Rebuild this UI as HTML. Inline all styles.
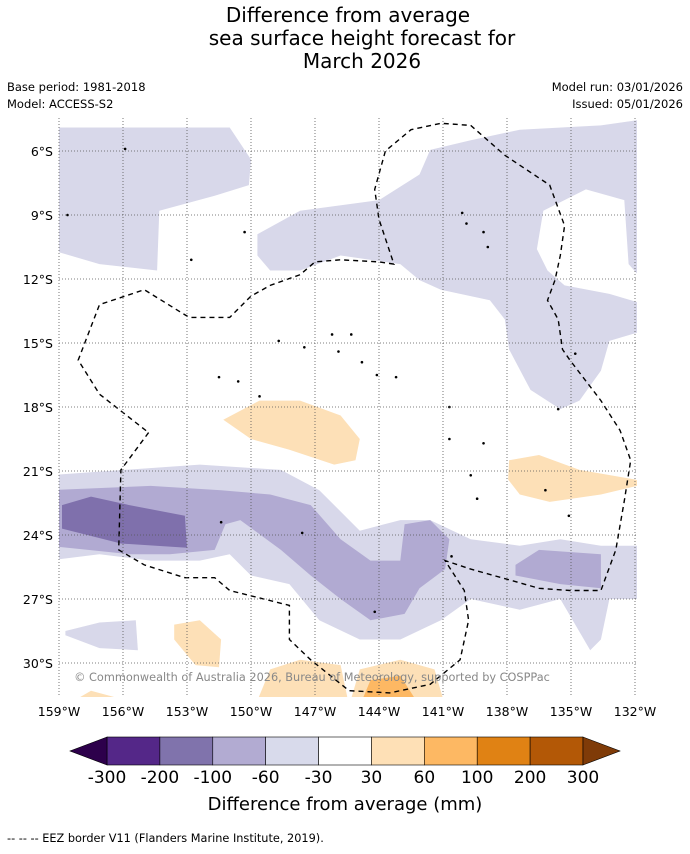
<!DOCTYPE html>
<html><head><meta charset="utf-8">
<style>
body{margin:0;background:#fff;width:690px;height:850px;overflow:hidden;font-family:"DejaVu Sans","Liberation Sans",sans-serif;}
svg text{font-family:"DejaVu Sans","Liberation Sans",sans-serif;}
</style></head>
<body>
<svg id="c" width="690" height="850" xmlns="http://www.w3.org/2000/svg">
<text x="348" y="22" font-size="20" text-anchor="middle">Difference from average</text>
<text x="362" y="45" font-size="20" text-anchor="middle">sea surface height forecast for</text>
<text x="362" y="68" font-size="20" text-anchor="middle">March 2026</text>
<text x="7" y="91" font-size="11.5">Base period: 1981-2018</text>
<text x="7" y="108" font-size="11.5">Model: ACCESS-S2</text>
<text x="683" y="91" font-size="11.5" text-anchor="end">Model run: 03/01/2026</text>
<text x="683" y="108" font-size="11.5" text-anchor="end">Issued: 05/01/2026</text>
<defs><clipPath id="pc"><rect x="59" y="118" width="578" height="579"/></clipPath></defs>
<g id="map" clip-path="url(#pc)"></g>
<g id="axes"></g>
<text x="312" y="681" font-size="11.3" fill="#888" text-anchor="middle">© Commonwealth of Australia 2026, Bureau of Meteorology, supported by COSPPac</text>
<g id="cbar"></g>
<text x="345" y="810" font-size="18" text-anchor="middle">Difference from average (mm)</text>
<text x="7" y="842" font-size="11.3">--  --  -- EEZ border V11 (Flanders Marine Institute, 2019).</text>
</svg>
<script>
const lonTicks=[-159,-156,-153,-150,-147,-144,-141,-138,-135,-132];
const latTicks=[-6,-9,-12,-15,-18,-21,-24,-27,-30];
const cbLabels=["-300","-200","-100","-60","-30","30","60","100","200","300"];
const cbColors=["#542788","#8073ac","#b2abd2","#d8daeb","#ffffff","#fee0b6","#fdb863","#e08214","#b35806"];
const cbLow="#2d004b", cbHigh="#7f3b08";
const lavLightA=[[-159.5,-4.9],[-151,-4.9],[-150,-6.4],[-150.1,-7.6],[-151.7,-8.1],[-154.3,-8.8],[-154.4,-11.6],[-157.1,-11.3],[-159.5,-10.6]];
const lavLightB=[[-149.7,-9.9],[-147.7,-8.8],[-144,-8.3],[-142.1,-7.1],[-141.6,-5.95],[-139.7,-5.5],[-137.4,-5],[-133.6,-4.8],[-131.5,-4.5],[-131.5,-14.4],[-133.2,-14.9],[-133.6,-16.3],[-134.6,-17.7],[-135.5,-18.1],[-136.9,-17.2],[-137.9,-15.3],[-138.1,-13.9],[-138.8,-13],[-141.1,-12.5],[-142.1,-12.05],[-143,-11.3],[-145.8,-10.9],[-147.7,-11.6],[-149.1,-11.6],[-149.7,-10.9]];
const whiteHole=[[-136.3,-8.8],[-134.3,-7.8],[-132.5,-8.3],[-132.3,-11.3],[-131.5,-12.2],[-131.5,-13.2],[-133.2,-12.7],[-135.3,-12.3],[-136.1,-11.6],[-136.6,-10.6]];
const lavLightBand=[[-159.5,-21.2],[-152.4,-20.7],[-148.6,-20.95],[-146.8,-21.9],[-144.9,-23.8],[-143,-23.3],[-141.6,-23.3],[-139.7,-24.2],[-137.4,-24.5],[-135.5,-24.2],[-133.6,-24.5],[-131.5,-24.5],[-131.5,-27],[-133.2,-27],[-133.6,-28.9],[-134.1,-29.4],[-135.5,-27],[-137.4,-27.5],[-139.7,-27],[-141.1,-28],[-143,-28.9],[-144.9,-28.9],[-146.8,-28],[-148.2,-26.3],[-150,-25.9],[-151,-24.9],[-152.4,-25.2],[-154.7,-25.2],[-157.1,-24.9],[-159.5,-25.2]];
const lavMidBand=[[-159.5,-21.9],[-154.7,-21.7],[-151.4,-21.9],[-149.1,-22.1],[-147.2,-22.6],[-145.8,-24.2],[-144.4,-25.2],[-143,-25.2],[-142.8,-23.5],[-141.6,-23.3],[-140.7,-24.2],[-140.9,-25.6],[-142.1,-26.5],[-142.8,-27.7],[-144.4,-28],[-145.8,-27],[-147.2,-25.9],[-148.6,-24.7],[-150.5,-23.3],[-151.2,-23.5],[-151.7,-24.7],[-153.8,-24.9],[-155.7,-24.9],[-159.5,-24.5]];
const lavMidRight=[[-137.6,-25.4],[-136.5,-24.7],[-133.6,-24.9],[-133.6,-26.5],[-135.5,-26.3],[-137.6,-25.9]];
const lavDark=[[-158.86,-22.6],[-157.5,-22.2],[-155.7,-22.6],[-153.1,-23.1],[-153,-24.6],[-156.1,-24.4],[-158.86,-23.7]];
const lavLightBL=[[-158.7,-28.5],[-157.1,-28.1],[-155.4,-28],[-155.3,-29.4],[-157.1,-29.3],[-158.7,-28.7]];
const orA=[[-151.3,-18.6],[-149.6,-17.7],[-147.7,-17.7],[-145.8,-18.4],[-144.9,-19.5],[-145.1,-20.5],[-146.1,-20.7],[-148.2,-20],[-150,-19.5]];
const orB=[[-137.9,-20.5],[-136.5,-20.25],[-134.6,-20.95],[-132,-21.4],[-131.5,-21.6],[-133.6,-22.1],[-136,-22.45],[-137.4,-22.1],[-137.95,-21.4]];
const orC=[[-153.6,-28.2],[-152.4,-28],[-151.4,-28.9],[-151.5,-30.2],[-152.6,-30.1],[-153.6,-28.9]];
const orD=[[-149.8,-32],[-149.1,-30.3],[-147.7,-29.85],[-145.8,-30.1],[-145.4,-32]];
const orE=[[-145.4,-32],[-144.9,-30.3],[-143,-29.85],[-141.4,-30.3],[-140.9,-32]];
const orF=[[-158.7,-32],[-157.5,-31.3],[-156.4,-31.6],[-156,-32]];
const orDeep=[[-144.9,-32],[-144.4,-30.8],[-143,-30.6],[-142.1,-32]];
const eez=[[-154.8,-19.2],[-156.1,-20.95],[-156.2,-24.7],[-155,-25.4],[-153.1,-26],[-151.7,-26],[-151,-26.6],[-148.2,-27.3],[-148.2,-28.9],[-147.2,-29.85],[-145.4,-31.3],[-143.5,-31.4],[-141.6,-31],[-140.2,-29.85],[-139.8,-28],[-140,-26.6],[-140.9,-25.2],[-139.7,-25.6],[-137.9,-26.1],[-136.5,-26.5],[-135.05,-26.6],[-133.6,-26.6],[-132.9,-24.7],[-132.5,-22.4],[-132.2,-20.5],[-132.7,-19.1],[-133.6,-17.7],[-135.05,-15.8],[-135.4,-15.3],[-135.6,-13.9],[-136.1,-13],[-135.75,-12.05],[-135.5,-10.9],[-135.3,-9.5],[-136,-7.6],[-138.1,-6.2],[-139.7,-4.8],[-141.1,-4.7],[-142.5,-5],[-143.7,-6],[-144.2,-7.8],[-144,-9.2],[-143.3,-11.3],[-144,-11.2],[-145.8,-11.1],[-147,-11.2],[-147.7,-11.8],[-149.1,-12.3],[-150,-12.8],[-151,-13.8],[-152.9,-13.8],[-155,-12.5],[-157.1,-13.2],[-158.1,-15.8],[-157.1,-17.4],[-154.8,-19.2]];
const islands=[[-155.9,-5.9],[-158.6,-9.0],[-140.1,-8.9],[-139.9,-9.4],[-139.1,-9.8],[-138.9,-10.5],[-150.3,-9.8],[-152.8,-11.1],[-146.2,-14.6],[-145.3,-14.6],[-148.7,-14.9],[-147.5,-15.2],[-145.9,-15.4],[-144.8,-15.9],[-144.1,-16.5],[-143.2,-16.6],[-150.6,-16.8],[-149.6,-17.5],[-151.5,-16.6],[-140.7,-18],[-140.7,-19.5],[-139.1,-19.7],[-135.6,-18.1],[-139.7,-21.2],[-139.4,-22.3],[-135.1,-23.1],[-151.4,-23.4],[-147.6,-23.9],[-140.6,-25.0],[-144.2,-27.6],[-134.8,-15.5],[-136.2,-21.9]];
const NS="http://www.w3.org/2000/svg";
const X0=59,Y0=151,S=64/3;
function px(lon){return X0+(lon+159)*S;}
function py(lat){return Y0+(-6-lat)*S;}
const map=document.getElementById('map'),axes=document.getElementById('axes'),cbar=document.getElementById('cbar');
function poly(pts,fill,name,parent,extra){
 const p=document.createElementNS(NS,'path');
 p.setAttribute('d','M'+pts.map(q=>px(q[0]).toFixed(1)+','+py(q[1]).toFixed(1)).join('L')+'Z');
 p.setAttribute('fill',fill);
 if(extra)for(const k in extra)p.setAttribute(k,extra[k]);
 
 
 (parent||map).appendChild(p);return p;
}
poly(lavLightA,'#d8d8ea','contour-minus30-north-west');
poly(lavLightB,'#d8d8ea','contour-minus30-north-east');
poly(whiteHole,'#ffffff','contour-neutral-hole');
poly(lavLightBand,'#d8d8ea','contour-minus30-band');
poly(lavLightBL,'#d8d8ea','contour-minus30-south-west');
poly(lavMidBand,'#b1aad2','contour-minus60-band');
poly(lavMidRight,'#b1aad2','contour-minus60-east');
poly(lavDark,'#7f70ac','contour-minus100-west');
poly(orA,'#fde0b7','contour-plus30-central');
poly(orB,'#fde0b7','contour-plus30-east');
poly(orC,'#fde0b7','contour-plus30-south-west');
poly(orD,'#fde0b7','contour-plus30-south-a');
poly(orE,'#fde0b7','contour-plus30-south-b');
poly(orF,'#fde0b7','contour-plus30-corner');
poly(orDeep,'#fdb863','contour-plus60-south');
islands.forEach(q=>{
 const c=document.createElementNS(NS,'circle');
 c.setAttribute('cx',px(q[0]));c.setAttribute('cy',py(q[1]));c.setAttribute('r',1.3);c.setAttribute('fill','#000');
 
 
 map.appendChild(c);
});
poly(eez,'none','eez-border',map,{stroke:'#000','stroke-width':1.4,'stroke-dasharray':'5,4'});
lonTicks.forEach(l=>{
 const x=px(l);
 const g=document.createElementNS(NS,'line');
 g.setAttribute('x1',x);g.setAttribute('x2',x);g.setAttribute('y1',118);g.setAttribute('y2',697);
 g.setAttribute('stroke','#555');g.setAttribute('stroke-width',0.8);g.setAttribute('stroke-dasharray','1,2');
 
 
 axes.appendChild(g);
 const t=document.createElementNS(NS,'text');
 t.setAttribute('x',x);t.setAttribute('y',716);t.setAttribute('font-size',12.5);t.setAttribute('text-anchor','middle');
 t.textContent=Math.abs(l)+'°W';
 
 
 axes.appendChild(t);
});
latTicks.forEach(l=>{
 const y=py(l);
 const g=document.createElementNS(NS,'line');
 g.setAttribute('x1',59);g.setAttribute('x2',637);g.setAttribute('y1',y);g.setAttribute('y2',y);
 g.setAttribute('stroke','#555');g.setAttribute('stroke-width',0.8);g.setAttribute('stroke-dasharray','1,2');
 
 
 axes.appendChild(g);
 const t=document.createElementNS(NS,'text');
 t.setAttribute('x',53);t.setAttribute('y',y+5);t.setAttribute('font-size',12.5);t.setAttribute('text-anchor','end');
 t.textContent=Math.abs(l)+'°S';
 
 
 axes.appendChild(t);
});
const cbX0=107,cbW=(583-107)/cbColors.length,cbY=737,cbH=28;
cbColors.forEach((col,i)=>{
 const r=document.createElementNS(NS,'rect');
 r.setAttribute('x',cbX0+i*cbW);r.setAttribute('y',cbY);r.setAttribute('width',cbW);r.setAttribute('height',cbH);
 r.setAttribute('fill',col);r.setAttribute('stroke','#000');r.setAttribute('stroke-width',0.6);
 
 
 cbar.appendChild(r);
});
[[cbLow,`${cbX0},${cbY} ${cbX0},${cbY+cbH} 70,${cbY+cbH/2}`,'colorbar-low-extend'],[cbHigh,`583,${cbY} 583,${cbY+cbH} 620,${cbY+cbH/2}`,'colorbar-high-extend']].forEach(a=>{
 const p=document.createElementNS(NS,'polygon');
 p.setAttribute('points',a[1]);p.setAttribute('fill',a[0]);p.setAttribute('stroke','#000');p.setAttribute('stroke-width',0.6);
 
 
 cbar.appendChild(p);
});
cbLabels.forEach((s,i)=>{
 const t=document.createElementNS(NS,'text');
 t.setAttribute('x',cbX0+i*cbW);t.setAttribute('y',783);t.setAttribute('font-size',17);t.setAttribute('text-anchor','middle');
 t.textContent=s;
 
 
 cbar.appendChild(t);
});
</script>
</body></html>
